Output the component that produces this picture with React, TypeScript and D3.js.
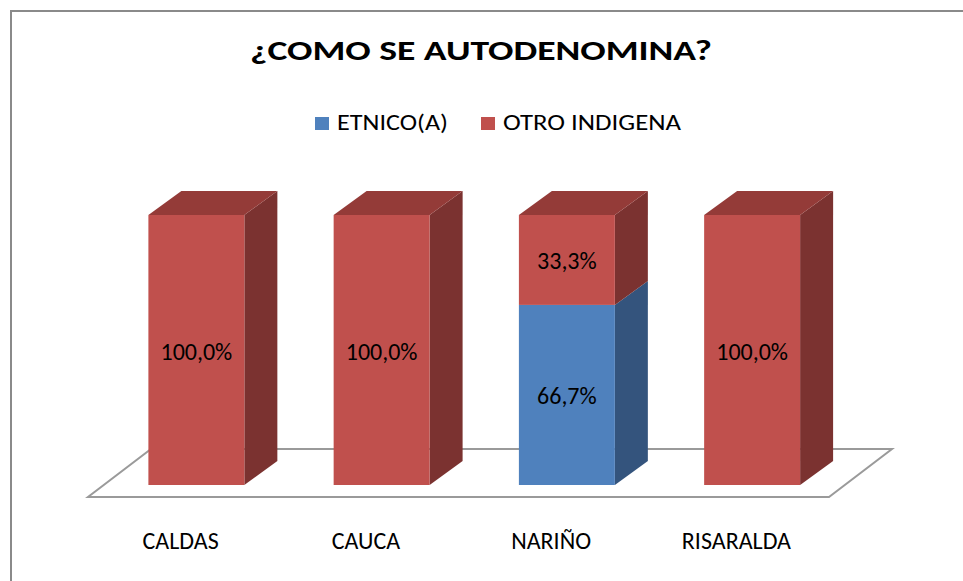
import React from "react";
import * as d3 from "d3";

const categories = ["CALDAS", "CAUCA", "NARIÑO", "RISARALDA"];
const seriesNames = ["ETNICO(A)", "OTRO INDIGENA"];
const etnico = [0, 0, 0.667, 0];
const otroIndigena = [1, 1, 0.333, 1];
const title = "¿COMO SE AUTODENOMINA?";

const W = 963;
const H = 581;
const FONT = "Carlito, Calibri, Lato, 'Open Sans', sans-serif";

const colors = {
  front: ["#4F81BD", "#C0504D"],
  side: ["#34547D", "#7B3230"],
  top: ["#3D679A", "#943B38"],
};

const fmt = (v: number) => (v * 100).toFixed(1).replace(".", ",") + "%";

export default function App() {
  const floorLeft = 88;
  const floorRight = 829;
  const floorFrontY = 497;
  const depthDX = 63;
  const depthDY = 48;
  const d0 = 0.25;
  const barDX = 33;
  const barDY = 24;

  const x = d3
    .scaleBand<string>()
    .domain(categories)
    .range([floorLeft, floorRight])
    .paddingInner(0.482)
    .paddingOuter(0.241);
  const xCat = d3.scaleBand<string>().domain(categories).range([floorLeft, floorRight]);

  const baseY = floorFrontY - d0 * depthDY;
  const y = d3.scaleLinear().domain([0, 1]).range([baseY, 215]);

  const stack = d3
    .stack<any>()
    .keys(["e", "o"])(categories.map((c, i) => ({ c, e: etnico[i], o: otroIndigena[i] })));

  const floorPts = [
    [floorLeft, floorFrontY],
    [floorRight, floorFrontY],
    [floorRight + depthDX, floorFrontY - depthDY],
    [floorLeft + depthDX, floorFrontY - depthDY],
  ];

  const bars: React.ReactNode[] = [];
  categories.forEach((c, i) => {
    const x0 = (x(c) as number) + d0 * depthDX;
    const bw = x.bandwidth();
    const x1 = x0 + bw;
    let topIdx = -1;
    stack.forEach((s, k) => {
      if (s[i][1] - s[i][0] > 0) topIdx = k;
    });
    stack.forEach((s, k) => {
      const v0 = s[i][0];
      const v1 = s[i][1];
      if (v1 - v0 <= 0) return;
      const yb = y(v0);
      const yt = y(v1);
      const side = [
        [x1, yb],
        [x1 + barDX, yb - barDY],
        [x1 + barDX, yt - barDY],
        [x1, yt],
      ];
      bars.push(
        <polygon
          key={`s${i}${k}`}
          points={side.map((p) => p.join(",")).join(" ")}
          fill={colors.side[k]}
        />
      );
      if (k === topIdx) {
        const top = [
          [x0, yt],
          [x1, yt],
          [x1 + barDX, yt - barDY],
          [x0 + barDX, yt - barDY],
        ];
        bars.push(
          <polygon
            key={`t${i}${k}`}
            points={top.map((p) => p.join(",")).join(" ")}
            fill={colors.top[k]}
          />
        );
      }
      bars.push(
        <rect
          key={`f${i}${k}`}
          x={x0}
          y={yt}
          width={bw}
          height={yb - yt}
          fill={colors.front[k]}
        />
      );
      bars.push(
        <text
          key={`l${i}${k}`}
          x={x0 + bw / 2}
          y={(yb + yt) / 2 + 1}
          textAnchor="middle"
          dominantBaseline="central"
          fontFamily={FONT}
          fontSize={24}
          fill="#000"
        >
          {fmt(v1 - v0)}
        </text>
      );
    });
  });

  const legendX = [315, 481];
  const legendTextLen = [111, 178];

  return (
    <svg width={W} height={H} style={{ display: "block", position: "absolute", left: 0, top: 0 }}>
      <rect x={0} y={0} width={W} height={H} fill="#fff" />
      <rect x={11} y={11} width={W + 20} height={H + 20} fill="#fff" stroke="#8a8a8a" strokeWidth={2} />
      <text
        x={481}
        y={60}
        textAnchor="middle"
        fontFamily={FONT}
        fontWeight="bold"
        fontSize={28}
        textLength={462}
        lengthAdjust="spacingAndGlyphs"
        fill="#000"
      >
        {title}
      </text>
      {seriesNames.map((n, k) => (
        <g key={n}>
          <rect x={legendX[k]} y={117} width={14} height={13} fill={colors.front[k]} />
          <text
            x={legendX[k] + 22}
            y={130}
            fontFamily={FONT}
            fontSize={22}
            textLength={legendTextLen[k]}
            lengthAdjust="spacingAndGlyphs"
            fill="#000"
          >
            {n}
          </text>
        </g>
      ))}
      <polygon
        points={floorPts.map((p) => p.join(",")).join(" ")}
        fill="#fff"
        stroke="#9a9a9a"
        strokeWidth={2}
      />
      {bars}
      {categories.map((c) => (
        <text
          key={c}
          x={(xCat(c) as number) + xCat.bandwidth() / 2}
          y={549}
          textAnchor="middle"
          fontFamily={FONT}
          fontSize={24}
          fill="#000"
        >
          {c}
        </text>
      ))}
    </svg>
  );
}
